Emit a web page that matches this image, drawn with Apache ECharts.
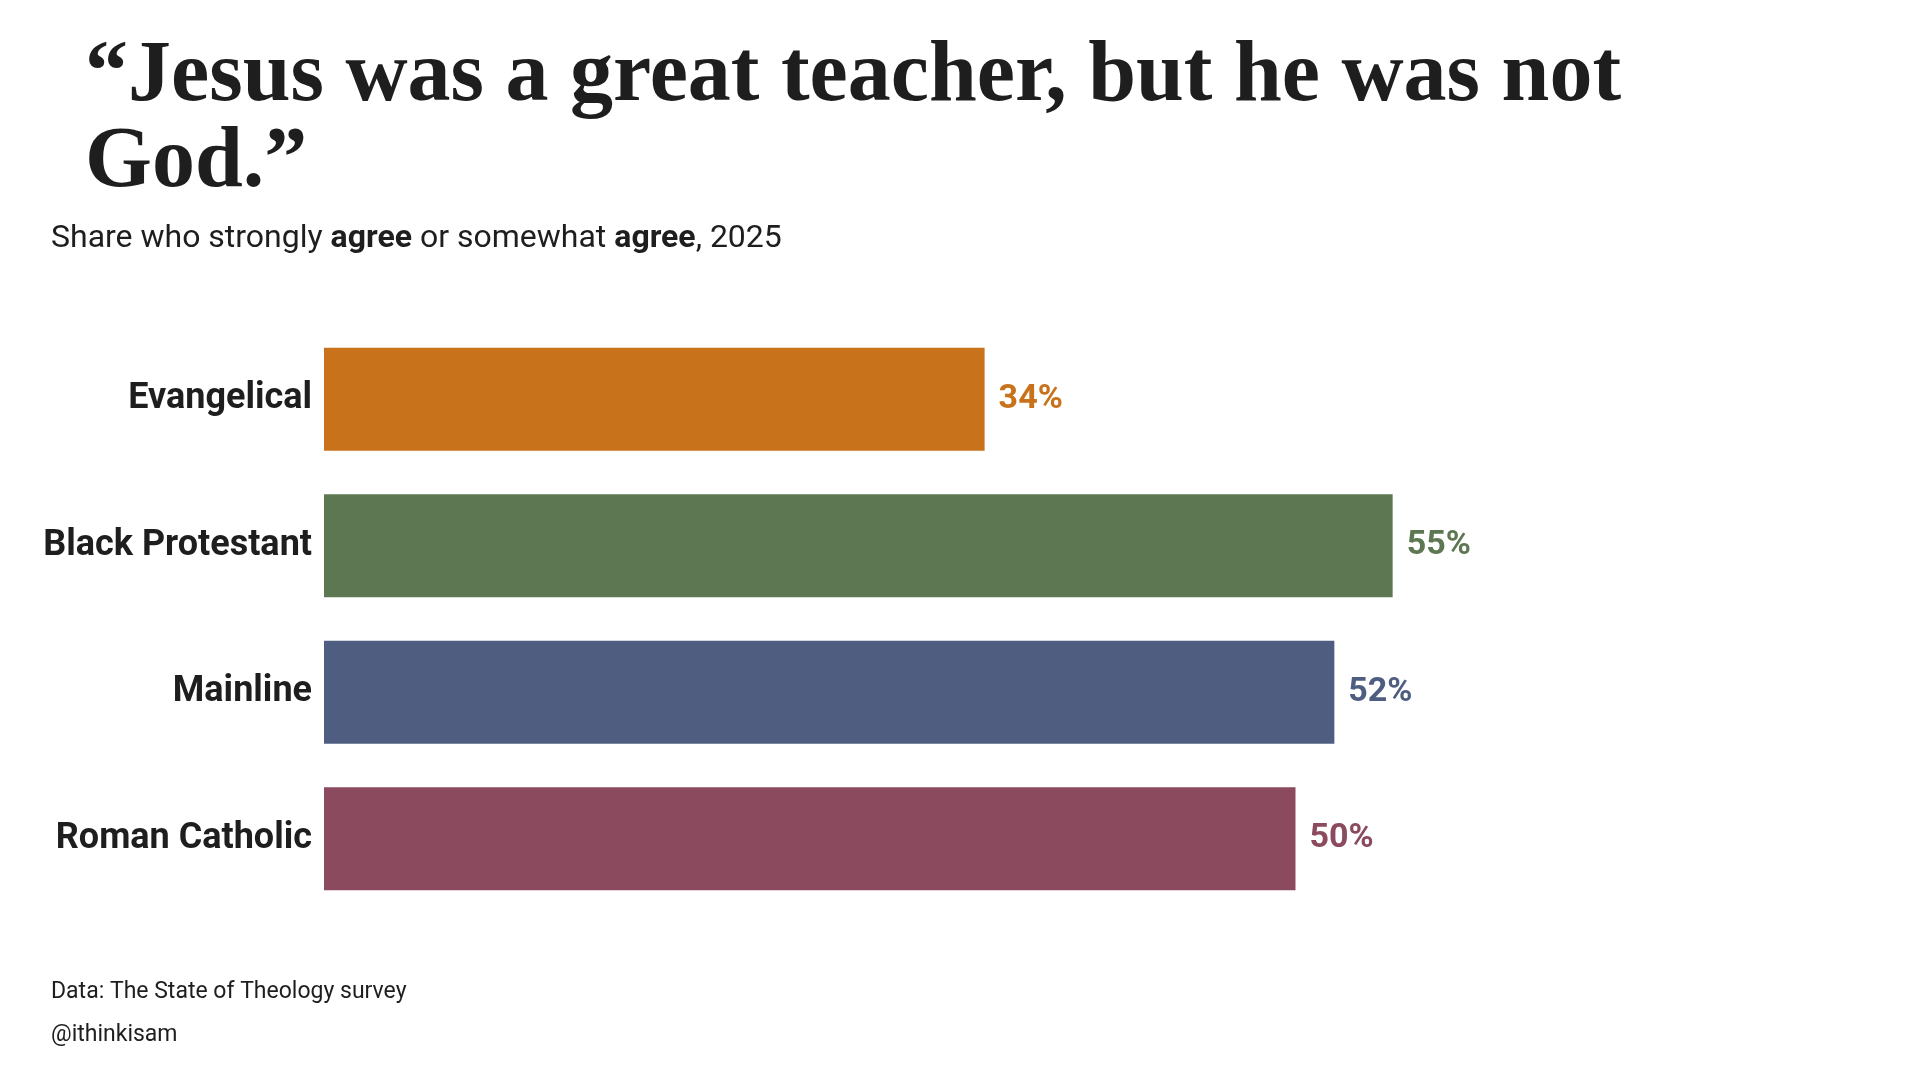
<!DOCTYPE html>
<html><head><meta charset="utf-8">
<script src="https://cdn.jsdelivr.net/npm/echarts@6/dist/echarts.min.js"></script>
<style>html,body{margin:0;padding:0;background:#fff}#c{width:1920px;height:1080px}</style>
</head><body><div id="c"></div>
<script>
const categories = ['Evangelical','Black Protestant','Mainline','Roman Catholic'];
const values = [34,55,52,50];
const colors = ['#C8721B','#5C7752','#4F5E80','#8B4A5E'];
const chart = echarts.init(document.getElementById('c'));
chart.setOption({
  backgroundColor:'#fff',
  animation:false,
  title:[
    {text:'“Jesus was a great teacher, but he was not\nGod.”',left:80,top:30,
     textStyle:{fontFamily:'Liberation Serif',fontWeight:'bold',fontSize:86,lineHeight:86,color:'#1e1e1e'}},
    {text:'{n|Share who strongly }{b|agree}{n| or somewhat }{b|agree}{n|, 2025}',left:46,top:218,
     textStyle:{fontWeight:'normal',fontSize:32,rich:{n:{fontFamily:'Roboto',fontWeight:'normal',fontSize:32,color:'#1e1e1e'},b:{fontFamily:'Roboto',fontWeight:'bold',fontSize:32,color:'#1e1e1e'}}}},
    {text:'Data: The State of Theology survey',left:46,top:976,textStyle:{fontFamily:'Roboto',fontWeight:'normal',fontSize:23,color:'#1e1e1e'}},
    {text:'@ithinkisam',left:46,top:1019,textStyle:{fontFamily:'Roboto',fontWeight:'normal',fontSize:23,color:'#1e1e1e'}}
  ],
  grid:{left:324,right:28,top:326,bottom:168},
  xAxis:{type:'value',min:0,max:80.7,show:false},
  yAxis:{type:'category',inverse:true,data:categories,axisLine:{show:false},axisTick:{show:false},
    axisLabel:{fontFamily:'Roboto',fontWeight:'bold',fontSize:36,color:'#1e1e1e',margin:12}},
  series:[{type:'bar',barWidth:103,
    data:values.map((v,i)=>({value:v,itemStyle:{color:colors[i]},label:{color:colors[i]}})),
    label:{show:true,position:'right',distance:14,formatter:'{c}%',fontFamily:'Roboto',fontWeight:'bold',fontSize:34}}]
});
</script></body></html>
